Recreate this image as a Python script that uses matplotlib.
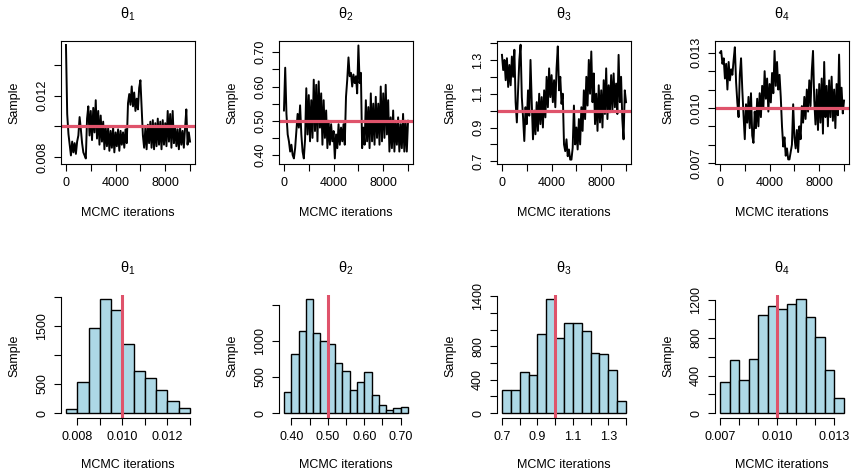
import numpy as np
import matplotlib.pyplot as plt

plt.rcParams['font.family'] = ['Liberation Sans', 'DejaVu Sans']
plt.rcParams['mathtext.fontset'] = 'custom'
plt.rcParams['mathtext.rm'] = 'Liberation Sans'
plt.rcParams['mathtext.it'] = 'Liberation Sans:italic'

# MCMC chains, thinned to one draw every 100 iterations
iters = np.arange(0, 10001, 100)

theta1 = [0.0153, 0.0108, 0.0095, 0.0088, 0.0081, 0.0090, 0.0083, 0.0089, 0.0082, 0.0090,
          0.0094, 0.0106, 0.0098, 0.0089, 0.0083, 0.0081, 0.0079, 0.0105, 0.0113, 0.0094,
          0.0110, 0.0091, 0.0112, 0.0096, 0.0117, 0.0092, 0.0110, 0.0088, 0.0107, 0.0090,
          0.0103, 0.0085, 0.0100, 0.0087, 0.0099, 0.0084, 0.0097, 0.0086, 0.0099, 0.0083,
          0.0096, 0.0087, 0.0098, 0.0084, 0.0097, 0.0088, 0.0096, 0.0086, 0.0098, 0.0089,
          0.0115, 0.0121, 0.0114, 0.0126, 0.0113, 0.0122, 0.0110, 0.0118, 0.0111, 0.0125,
          0.0130, 0.0112, 0.0094, 0.0086, 0.0099, 0.0085, 0.0101, 0.0089, 0.0103, 0.0086,
          0.0104, 0.0085, 0.0102, 0.0087, 0.0105, 0.0088, 0.0103, 0.0085, 0.0104, 0.0088,
          0.0102, 0.0087, 0.0110, 0.0090, 0.0108, 0.0086, 0.0110, 0.0089, 0.0100, 0.0087,
          0.0098, 0.0085, 0.0099, 0.0088, 0.0097, 0.0086, 0.0099, 0.0111, 0.0088, 0.0096,
          0.0090]

theta2 = [0.53, 0.655, 0.52, 0.46, 0.44, 0.41, 0.43, 0.40, 0.39, 0.42,
          0.47, 0.52, 0.48, 0.545, 0.46, 0.41, 0.39, 0.445, 0.595, 0.46,
          0.575, 0.44, 0.56, 0.45, 0.62, 0.47, 0.605, 0.44, 0.615, 0.48,
          0.58, 0.43, 0.56, 0.45, 0.53, 0.42, 0.50, 0.43, 0.49, 0.44,
          0.47, 0.39, 0.46, 0.42, 0.49, 0.43, 0.48, 0.44, 0.49, 0.43,
          0.57, 0.62, 0.685, 0.63, 0.64, 0.60, 0.635, 0.61, 0.63, 0.58,
          0.72, 0.61, 0.64, 0.42, 0.48, 0.43, 0.56, 0.44, 0.54, 0.42,
          0.58, 0.44, 0.55, 0.43, 0.57, 0.45, 0.55, 0.43, 0.60, 0.44,
          0.58, 0.45, 0.605, 0.46, 0.56, 0.41, 0.51, 0.42, 0.53, 0.41,
          0.50, 0.43, 0.51, 0.41, 0.49, 0.42, 0.52, 0.41, 0.50, 0.41,
          0.50]

theta3 = [1.33, 1.24, 1.30, 1.18, 1.31, 1.14, 1.27, 1.15, 1.32, 1.20,
          1.36, 1.05, 0.93, 1.12, 1.30, 1.39, 1.08, 0.96, 0.82, 1.02,
          0.92, 1.12, 0.97, 1.30, 1.05, 0.83, 1.00, 0.86, 1.05, 0.88,
          1.10, 0.92, 1.08, 0.90, 1.12, 0.96, 1.20, 1.02, 1.25, 1.08,
          1.21, 1.05, 1.18, 1.02, 1.25, 1.38, 1.12, 1.20, 1.04, 1.10,
          0.80, 0.76, 0.83, 0.73, 0.77, 0.71, 0.71, 0.78, 1.03, 0.80,
          0.90, 0.77, 0.95, 0.80, 1.02, 0.88, 1.12, 0.95, 1.20, 1.03,
          1.30, 1.10, 1.35, 1.05, 1.22, 0.92, 1.10, 0.88, 1.15, 0.93,
          1.12, 0.90, 1.18, 0.98, 1.25, 0.95, 1.15, 0.99, 1.21, 1.00,
          1.22, 1.02, 1.16, 0.98, 1.33, 1.05, 1.20, 0.95, 0.83, 1.12,
          1.05]

theta4 = [0.0130, 0.0131, 0.0124, 0.0127, 0.0116, 0.0124, 0.0110, 0.0125, 0.0115, 0.0121,
          0.0118, 0.0126, 0.0133, 0.0114, 0.0103, 0.0095, 0.0118, 0.0127, 0.0110, 0.0096,
          0.0083, 0.0102, 0.0092, 0.0106, 0.0089, 0.0108, 0.0085, 0.0081, 0.0098, 0.0089,
          0.0105, 0.0090, 0.0108, 0.0095, 0.0112, 0.0100, 0.0120, 0.0105, 0.0116, 0.0098,
          0.0113, 0.0103, 0.0119, 0.0108, 0.0131, 0.0112, 0.0125, 0.0110, 0.0118, 0.0106,
          0.0090, 0.0079, 0.0084, 0.0074, 0.0078, 0.0072, 0.0072, 0.0076, 0.0080, 0.0102,
          0.0084, 0.0078, 0.0088, 0.0076, 0.0090, 0.0083, 0.0101, 0.0092, 0.0106, 0.0094,
          0.0110, 0.0098, 0.0115, 0.0101, 0.0120, 0.0131, 0.0104, 0.0091, 0.0110, 0.0088,
          0.0113, 0.0092, 0.0116, 0.0086, 0.0125, 0.0095, 0.0112, 0.0090, 0.0115, 0.0095,
          0.0117, 0.0093, 0.0110, 0.0089, 0.0113, 0.0096, 0.0129, 0.0100, 0.0111, 0.0097,
          0.0104]

true_vals = [0.01, 0.5, 1.0, 0.01]

# histogram bins and counts of the posterior samples
breaks1 = np.arange(0.0075, 0.01301, 0.0005)
counts1 = [68, 528, 1460, 1960, 1773, 1182, 716, 597, 403, 210, 85]
breaks2 = np.arange(0.38, 0.7201, 0.02)
counts2 = [295, 816, 1134, 1580, 1111, 995, 958, 696, 581, 313, 433, 567, 249, 106, 46, 69, 83]
breaks3 = np.arange(0.70, 1.4001, 0.05)
counts3 = [272, 280, 496, 460, 948, 1368, 900, 1084, 1084, 988, 716, 708, 520, 148]
breaks4 = np.arange(0.007, 0.013501, 0.0005)
counts4 = [332, 568, 356, 572, 1048, 1137, 1112, 1158, 1214, 1027, 812, 459, 162]

# axis ticks (blank label = tick without text)
trace_ylims = [(0.00754, 0.01556), (0.3737, 0.733), (0.684, 1.412), (0.00695, 0.01364)]
trace_yticks = [[0.008, 0.010, 0.012, 0.014],
                [0.40, 0.45, 0.50, 0.55, 0.60, 0.65, 0.70],
                [0.7, 0.8, 0.9, 1.0, 1.1, 1.2, 1.3, 1.4],
                [0.007, 0.008, 0.009, 0.010, 0.011, 0.012, 0.013]]
trace_ylabels = [['0.008', '', '0.012', ''],
                 ['0.40', '', '0.50', '', '0.60', '', '0.70'],
                 ['0.7', '', '0.9', '', '1.1', '', '1.3', ''],
                 ['0.007', '', '', '0.010', '', '', '0.013']]
hist_xticks = trace_yticks[:]
hist_xticks[0] = [0.008, 0.009, 0.010, 0.011, 0.012, 0.013]
hist_xlabels = [['0.008', '', '0.010', '', '0.012', ''],
                ['0.40', '', '0.50', '', '0.60', '', '0.70'],
                ['0.7', '', '0.9', '', '1.1', '', '1.3', ''],
                ['0.007', '', '', '0.010', '', '', '0.013']]
hist_yticks = [[0, 500, 1000, 1500, 2000],
               [0, 500, 1000, 1500],
               [0, 200, 400, 600, 800, 1000, 1200, 1400],
               [0, 200, 400, 600, 800, 1000, 1200]]
hist_ylabels = [['0', '500', '', '1500', ''],
                ['0', '500', '1000', ''],
                ['0', '', '400', '', '800', '', '', '1400'],
                ['0', '', '400', '', '800', '', '1200']]

traces = [theta1, theta2, theta3, theta4]
breaks = [breaks1, breaks2, breaks3, breaks4]
counts = [counts1, counts2, counts3, counts4]

red = '#DF536B'
W, H = 851, 470
fig = plt.figure(figsize=(W / 100, H / 100), dpi=100)

lefts = [61, 279, 497, 715]
pw, ph = 134, 123
fs = 9


def style(ax):
    ax.tick_params(direction='out', length=5.3, width=0.8, labelsize=fs, pad=4)
    ax.tick_params(axis='y', labelrotation=90)
    for lab in ax.get_yticklabels():
        lab.set_va('center')


for i in range(4):
    # trace plot
    ax = fig.add_axes([lefts[i] / W, 1 - (41 + ph) / H, pw / W, ph / H])
    ax.plot(iters, traces[i], color='black', lw=1.4)
    ax.axhline(true_vals[i], color=red, lw=2.3)
    ax.set_xlim(-400, 10400)
    ax.set_ylim(*trace_ylims[i])
    ax.set_xticks(range(0, 10001, 2000))
    ax.set_xticklabels(['0', '', '4000', '', '8000', ''])
    ax.set_yticks(trace_yticks[i])
    ax.set_yticklabels(trace_ylabels[i])
    for s in ax.spines.values():
        s.set_linewidth(0.8)
    style(ax)
    ax.set_title(r'$\mathrm{\theta}_%d$' % (i + 1), fontsize=10.5, pad=16)
    ax.set_xlabel('MCMC iterations', fontsize=fs, labelpad=13)
    ax.set_ylabel('Sample', fontsize=fs, labelpad=11)

    # histogram
    b = breaks[i]
    c = counts[i]
    ax = fig.add_axes([lefts[i] / W, 1 - (294.6 + ph) / H, pw / W, ph / H])
    ax.hist(b[:-1], bins=b, weights=c, color='lightblue', edgecolor='black', lw=1.0)
    ax.axvline(true_vals[i], color=red, lw=2.2)
    span = b[-1] - b[0]
    ax.set_xlim(b[0] - 0.04 * span, b[-1] + 0.04 * span)
    top = max(c)
    ax.set_ylim(-0.04 * top, 1.04 * top)
    ax.set_xticks(hist_xticks[i])
    ax.set_xticklabels(hist_xlabels[i])
    ax.set_yticks(hist_yticks[i])
    ax.set_yticklabels(hist_ylabels[i])
    ax.spines['top'].set_visible(False)
    ax.spines['right'].set_visible(False)
    ax.spines['left'].set_bounds(hist_yticks[i][0], hist_yticks[i][-1])
    ax.spines['bottom'].set_bounds(hist_xticks[i][0], hist_xticks[i][-1])
    ax.spines['left'].set_linewidth(0.8)
    ax.spines['bottom'].set_linewidth(0.8)
    style(ax)
    ax.set_title(r'$\mathrm{\theta}_%d$' % (i + 1), fontsize=10.5, pad=16)
    ax.set_xlabel('MCMC iterations', fontsize=fs, labelpad=12)
    ax.set_ylabel('Sample', fontsize=fs, labelpad=11)

fig.savefig('out.png', dpi=100)
